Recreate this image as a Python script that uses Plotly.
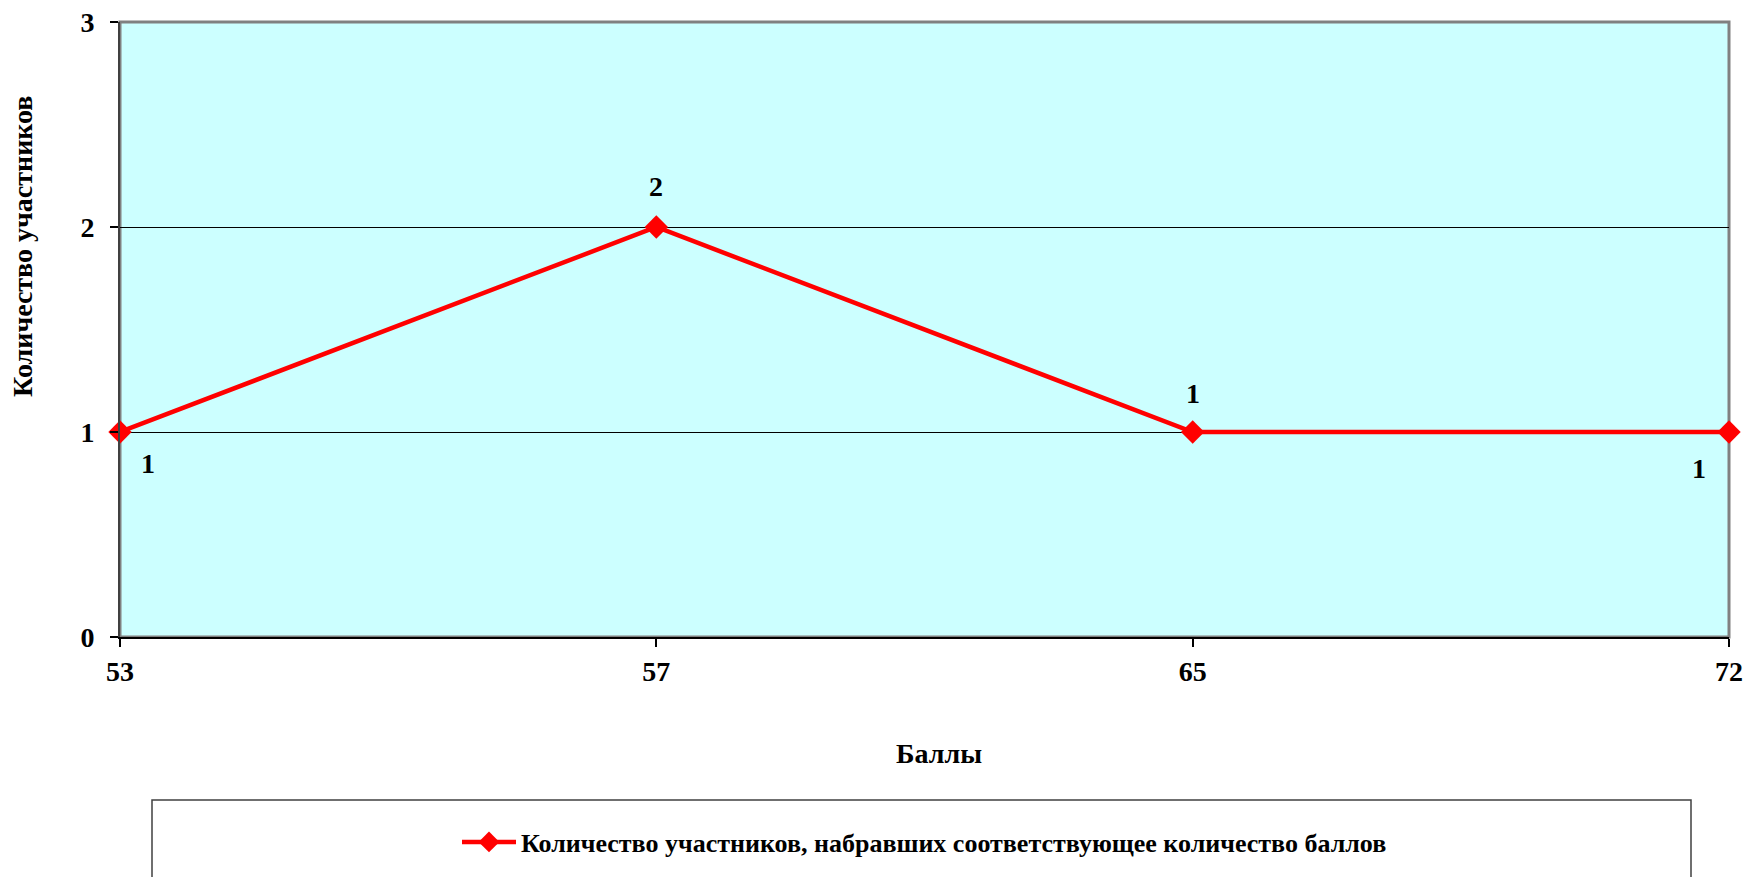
import plotly.graph_objects as go

categories = ["53", "57", "65", "72"]
values = [1, 2, 1, 1]
series_name = "Количество участников, набравших соответствующее количество баллов"
x_title = "Баллы"
y_title = "Количество участников"
y_ticks = [0, 1, 2, 3]

# label offsets (pixels) for each data label
label_dx = [28, 0, 0, -30]
label_dy = [-31, 41, 39, -36]

FONT = "Liberation Serif"
W, H = 1749, 877
L, R, T, B = 120, 20, 22, 240
pw, ph = W - L - R, H - T - B

def px_to_paper_x(px):
    return (px - L) / pw

def px_to_paper_y(py):
    return (H - B - py) / ph

def fnt(size=28):
    return dict(family=FONT, size=size, color="black", weight="bold")

fig = go.Figure()
fig.add_trace(go.Scatter(
    x=categories, y=values, mode="lines+markers", name=series_name,
    line=dict(color="#FF0000", width=4.5),
    marker=dict(symbol="diamond", size=18, color="#FF0000"),
    cliponaxis=False,
))

annotations = []
for i, (v, dx, dy) in enumerate(zip(values, label_dx, label_dy)):
    annotations.append(dict(
        x=i, y=v, xref="x", yref="y", text=str(v), showarrow=False,
        xanchor="center", yanchor="middle",
        xshift=dx, yshift=dy, font=fnt(),
    ))
annotations.append(dict(
    x=px_to_paper_x(22), y=px_to_paper_y(247), xref="paper", yref="paper",
    xanchor="center", yanchor="middle",
    text=y_title, textangle=-90, showarrow=False, font=fnt(),
))
annotations.append(dict(
    x=px_to_paper_x(939), y=px_to_paper_y(753), xref="paper", yref="paper",
    xanchor="center", yanchor="middle",
    text=x_title, showarrow=False, font=fnt(),
))

shapes = [
    dict(type="rect", xref="paper", yref="paper", x0=0, x1=1, y0=0, y1=1,
         line=dict(color="#808080", width=3), layer="below"),
    dict(type="rect", xref="paper", yref="paper",
         x0=px_to_paper_x(152), x1=px_to_paper_x(1691),
         y0=px_to_paper_y(800), y1=px_to_paper_y(900),
         line=dict(color="#404040", width=1.5), fillcolor="white", layer="below"),
]

fig.update_layout(
    width=W, height=H,
    margin=dict(l=L, r=R, t=T, b=B, autoexpand=False),
    paper_bgcolor="white", plot_bgcolor="#CCFFFF",
    font=fnt(),
    showlegend=True,
    hovermode=False,
    legend=dict(
        x=0.5, xanchor="center", y=px_to_paper_y(842), yanchor="middle",
        orientation="h", bgcolor="rgba(0,0,0,0)", borderwidth=0,
        font=fnt(26), itemwidth=54,
    ),
    annotations=annotations,
    shapes=shapes,
)
fig.update_xaxes(
    type="category", range=[0, len(categories) - 1],
    showgrid=False, zeroline=False,
    showline=True, linecolor="black", linewidth=2,
    ticks="outside", ticklen=8, tickwidth=1.5, tickcolor="black",
    tickfont=fnt(), ticklabelstandoff=0,
)
fig.update_yaxes(
    range=[0, 3], tickvals=y_ticks,
    showgrid=True, gridcolor="black", gridwidth=1,
    zeroline=False,
    showline=True, linecolor="#404040", linewidth=2,
    ticks="outside", ticklen=8, tickwidth=1.5, tickcolor="black",
    tickfont=fnt(), ticklabelstandoff=10,
)

fig.write_html(
    "out.html",
    config={"displayModeBar": False},
    post_script="document.body.style.margin='0';document.body.style.overflow='hidden';",
)
